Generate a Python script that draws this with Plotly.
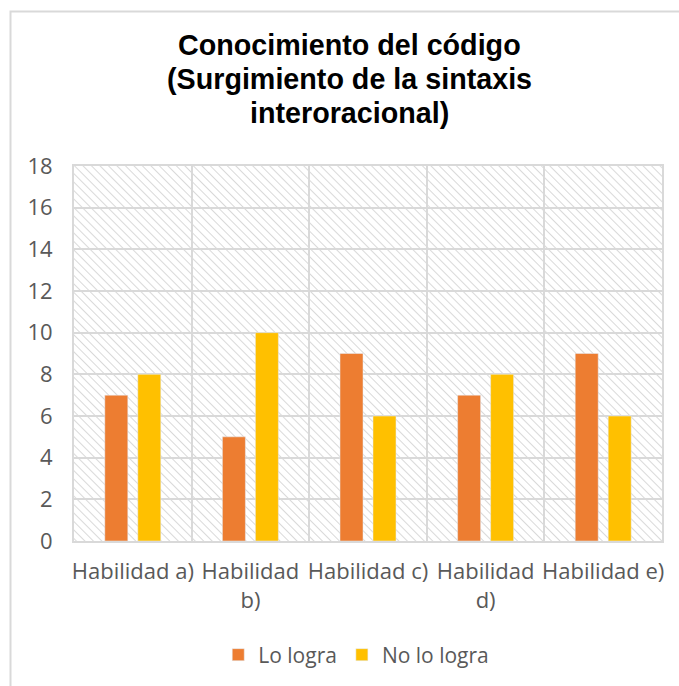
import base64
import plotly.graph_objects as go

categories = ["Habilidad a)", "Habilidad b)", "Habilidad c)", "Habilidad d)", "Habilidad e)"]
tick_labels = ["Habilidad a)", "Habilidad<br>b)", "Habilidad c)", "Habilidad<br>d)", "Habilidad e)"]
lo_logra = [7, 5, 9, 7, 9]
no_lo_logra = [8, 10, 6, 8, 6]
series_names = ["Lo logra", "No lo logra"]
y_ticks = list(range(0, 19, 2))
title_lines = ["Conocimiento del código", "(Surgimiento de la sintaxis", "interoracional)"]

W, H = 679, 686
L, R, T, B = 74, 17, 166, 145
pw, ph = W - L - R, H - T - B

# hatched background pattern as an SVG image
svg = f'''<svg xmlns="http://www.w3.org/2000/svg" width="{pw}" height="{ph}" viewBox="0 0 {pw} {ph}" preserveAspectRatio="none">
<defs><pattern id="p" width="6" height="6" patternUnits="userSpaceOnUse" patternTransform="rotate(-45)">
<rect width="6" height="6" fill="white"/><line x1="0" y1="0" x2="0" y2="6" stroke="#d9d9d9" stroke-width="2"/></pattern></defs>
<rect width="{pw}" height="{ph}" fill="url(#p)"/></svg>'''
src = "data:image/svg+xml;base64," + base64.b64encode(svg.encode()).decode()

fig = go.Figure()
fig.add_trace(go.Bar(x=categories, y=lo_logra, name=series_names[0], marker_color="#ED7D31"))
fig.add_trace(go.Bar(x=categories, y=no_lo_logra, name=series_names[1], marker_color="#FFC000"))

gridc = "#d9d9d9"
fig.update_layout(
    width=W, height=H,
    margin=dict(l=L, r=R, t=T, b=B, autoexpand=False),
    paper_bgcolor="white", plot_bgcolor="white",
    barmode="group", bargap=0.439, bargroupgap=0.303,
    font=dict(family="Open Sans", size=21, color="#595959"),
    xaxis=dict(
        tickmode="array", tickvals=categories, ticktext=tick_labels, tickangle=0,
        tickson="boundaries", showgrid=True, gridcolor=gridc, gridwidth=2,
        showline=True, linecolor=gridc, linewidth=2, mirror=True, automargin=False,
        ticks="", ticklabelstandoff=10, fixedrange=True, tickfont=dict(size=22),
    ),
    yaxis=dict(
        range=[0, 18], tickvals=y_ticks, showgrid=True, gridcolor=gridc, gridwidth=2,
        showline=True, linecolor=gridc, linewidth=2, mirror=True, automargin=False,
        ticks="", ticklabelstandoff=15, zeroline=False, fixedrange=True, tickfont=dict(size=22),
    ),
    legend=dict(orientation="h", x=0.48, xanchor="center", y=(H - B - 655) / ph,
                yanchor="middle", font=dict(size=21, color="#595959")),
    images=[dict(source=src, xref="paper", yref="paper", x=0, y=1, sizex=1, sizey=1,
                 sizing="stretch", layer="below")],
    showlegend=True,
)

# title, one line per annotation for exact line spacing
for i, line in enumerate(title_lines):
    fig.add_annotation(text=line, xref="paper", yref="paper", showarrow=False,
                       x=(349 - L) / pw, xanchor="center",
                       y=(H - B - (45 + 34 * i)) / ph, yanchor="middle",
                       font=dict(family="Liberation Sans", size=28.7, color="black", weight="bold"))

# chart-area border (left and top edges visible)
x0 = (10.5 - L) / pw
ytop = (H - B - 11.5) / ph
fig.add_shape(type="path", xref="paper", yref="paper",
              path=f"M {x0} {-(B + 5) / ph} L {x0} {ytop} L {(W + 5 - L) / pw} {ytop}",
              line=dict(color=gridc, width=2))

fig.write_html("out.html", config={"displayModeBar": False},
               post_script="document.body.style.margin='0';")
